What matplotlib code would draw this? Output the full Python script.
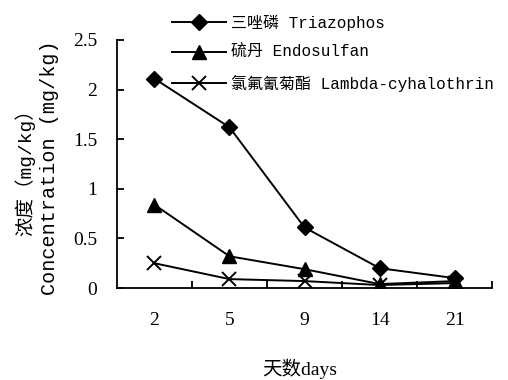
import matplotlib
matplotlib.use('Agg')
from matplotlib import pyplot as plt

# days after application (categorical positions)
days = ['2', '5', '9', '14', '21']
triazophos = [2.11, 1.62, 0.61, 0.20, 0.10]
endosulfan = [0.84, 0.32, 0.19, 0.04, 0.07]
lambda_cy = [0.25, 0.09, 0.07, 0.03, 0.05]
labels = ['三唑磷 Triazophos', '硫丹 Endosulfan', '氯氟氰菊酯 Lambda-cyhalothrin']
yticks = [0, 0.5, 1, 1.5, 2, 2.5]
ytick_labels = ['0', '0.5', '1', '1.5', '2', '2.5']

serif = ['Liberation Serif', 'Noto Sans CJK SC']
mono = ['Liberation Mono', 'Noto Sans CJK SC']

fig = plt.figure(figsize=(5.08, 3.8), dpi=100)
ax = fig.add_axes([0.230, 0.242, 0.739, 0.653])

x = list(range(len(days)))
styles = [('D', 8.5), ('^', 10), ('x', 10)]
for vals, label, (m, ms) in zip([triazophos, endosulfan, lambda_cy], labels, styles):
    ax.plot(x, vals, color='black', lw=1.4, marker=m, markersize=ms,
            markeredgewidth=1.4 if m == 'x' else 1, label=label)

ax.set_xlim(-0.5, 4.5)
ax.set_ylim(0, 2.5)
for s in ('top', 'right'):
    ax.spines[s].set_visible(False)
for s in ('left', 'bottom'):
    ax.spines[s].set_linewidth(1.3)

ax.set_xticks(x, days)
ax.set_xticks([0.5, 1.5, 2.5, 3.5, 4.5], minor=True)
ax.tick_params(axis='x', which='major', length=0, pad=17)
ax.tick_params(axis='x', which='minor', direction='in', length=5, width=1.3)
ax.set_yticks(yticks, ytick_labels)
ax.tick_params(axis='y', direction='in', length=5, width=1.3, pad=14)
for t in ax.get_xticklabels() + ax.get_yticklabels():
    t.set_family(serif)
    t.set_fontsize(14)

leg = fig.legend(loc='upper left', bbox_to_anchor=(0.31, 1.0), frameon=False,
                 handlelength=3.4, handletextpad=0.3, labelspacing=0.9,
                 prop={'family': mono, 'size': 11.5})

fig.text(0.59, 0.03, '天数days', ha='center', va='center', family=serif, fontsize=14)
fig.text(0.049, 0.56, '浓度（mg/kg）', rotation=90, ha='center', va='center',
         family=mono, fontsize=14)
fig.text(0.098, 0.56, 'Concentration (mg/kg)', rotation=90, ha='center', va='center',
         family=mono, fontsize=14.5)

fig.savefig('out.png', dpi=100)
